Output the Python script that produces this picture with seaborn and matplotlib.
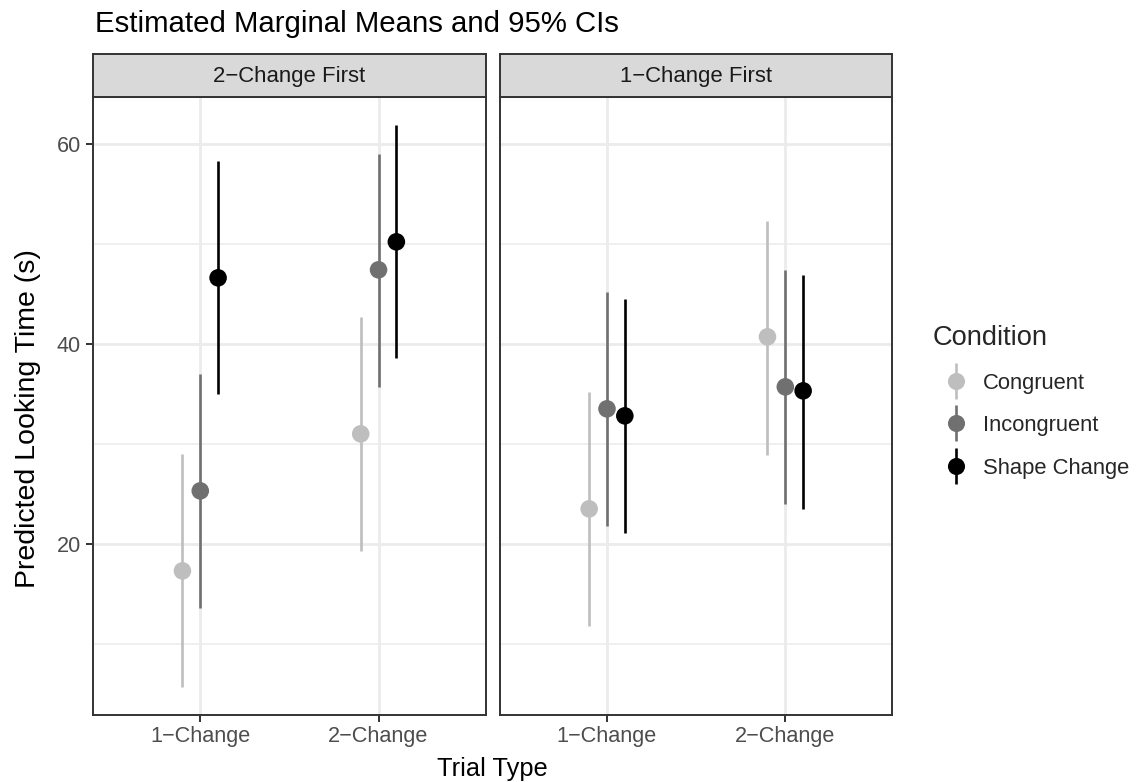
import numpy as np
import pandas as pd
import seaborn as sns
import matplotlib
matplotlib.use("Agg")
import matplotlib.pyplot as plt
from matplotlib.lines import Line2D
from matplotlib.legend_handler import HandlerTuple
from matplotlib.ticker import FixedLocator

# ---------------- data ----------------
orders = ["2\u2212Change First", "1\u2212Change First"]
trial_types = ["1\u2212Change", "2\u2212Change"]
conditions = ["Congruent", "Incongruent", "Shape Change"]

# order: (1-Change: C, I, S), (2-Change: C, I, S)
emmean_2first = [17.3, 25.3, 46.6, 31.0, 47.4, 50.2]
lower_2first = [5.7, 13.6, 35.0, 19.3, 35.7, 38.6]
upper_2first = [29.0, 37.0, 58.3, 42.7, 59.0, 61.9]

emmean_1first = [23.5, 33.5, 32.8, 40.7, 35.7, 35.3]
lower_1first = [11.8, 21.8, 21.1, 28.9, 24.0, 23.5]
upper_1first = [35.2, 45.2, 44.5, 52.3, 47.4, 46.9]

colors = ["#BEBEBE", "#707070", "#000000"]

rows = []
for order, em, lo, up in [(orders[0], emmean_2first, lower_2first, upper_2first),
                          (orders[1], emmean_1first, lower_1first, upper_1first)]:
    k = 0
    for t in trial_types:
        for c in conditions:
            rows.append(dict(order=order, trial=t, cond=c, emmean=em[k], lower=lo[k], upper=up[k]))
            k += 1
df = pd.DataFrame(rows)

dodge = {c: o for c, o in zip(conditions, [-0.1, 0.0, 0.1])}
df["x"] = df["trial"].map({t: i for i, t in enumerate(trial_types)}) + df["cond"].map(dodge)

# ---------------- theme ----------------
sns.set_theme(style="white")
plt.rcParams["font.family"] = ["Liberation Sans", "DejaVu Sans"]

W, H = 1146, 782
fig = plt.figure(figsize=(W / 100, H / 100), dpi=100)

def fx(px):
    return px / W

def fy(py):
    return 1 - py / H

panel_top, panel_bot = 96.7, 715.0
strip_top = 54.0
panels_x = [(93.3, 485.5), (500.0, 892.3)]

lo_all, hi_all = df["lower"].min(), df["upper"].max()
pad = 0.05 * (hi_all - lo_all)
ylim = (lo_all - pad, hi_all + pad)
xlim = (-0.6, len(trial_types) - 1 + 0.6)

grid_c = "#EBEBEB"
border_c = "#333333"
TICK_FS = 15.6

axes = []
for i, (order, (x0, x1)) in enumerate(zip(orders, panels_x)):
    ax = fig.add_axes([fx(x0), fy(panel_bot), fx(x1 - x0), (panel_bot - panel_top) / H])
    axes.append(ax)
    sub = df[df["order"] == order]
    ax.set_xlim(*xlim)
    ax.set_ylim(*ylim)
    # grid
    ax.yaxis.set_major_locator(FixedLocator([20, 40, 60]))
    ax.yaxis.set_minor_locator(FixedLocator([10, 30, 50]))
    ax.xaxis.set_major_locator(FixedLocator(range(len(trial_types))))
    ax.grid(True, which="major", color=grid_c, linewidth=2.0, zorder=0)
    ax.grid(True, which="minor", axis="y", color=grid_c, linewidth=1.1, zorder=0)
    ax.set_axisbelow(True)
    # intervals
    for c, col in zip(conditions, colors):
        s = sub[sub["cond"] == c]
        ax.vlines(s["x"], s["lower"], s["upper"], color=col, linewidth=1.9, zorder=2)
    sns.scatterplot(data=sub, x="x", y="emmean", hue="cond", hue_order=conditions,
                    palette=colors, s=160, linewidth=0, ax=ax, legend=False, zorder=3)
    ax.set_xlabel("")
    ax.set_ylabel("")
    ax.set_xticks(range(len(trial_types)))
    ax.set_xticklabels(trial_types)
    for sp in ax.spines.values():
        sp.set_color(border_c)
        sp.set_linewidth(1.4)
    ax.tick_params(axis="x", which="major", length=5.3, width=1.4, color=border_c,
                   labelsize=TICK_FS, labelcolor="#4D4D4D", pad=2.5, bottom=True)
    if i == 0:
        ax.tick_params(axis="y", which="major", length=5.3, width=1.4, color=border_c,
                       labelsize=TICK_FS, labelcolor="#4D4D4D", pad=3.5, left=True)
        ax.tick_params(axis="y", which="minor", length=0)
    else:
        ax.tick_params(axis="y", which="both", left=False, labelleft=False, length=0)
    # strip
    sax = fig.add_axes([fx(x0), fy(panel_top), fx(x1 - x0), (panel_top - strip_top) / H])
    sax.set_facecolor("#D9D9D9")
    sax.set_xticks([])
    sax.set_yticks([])
    for sp in sax.spines.values():
        sp.set_color(border_c)
        sp.set_linewidth(1.4)
    sax.text(0.5, 0.47, order, ha="center", va="center", fontsize=15.9, color="#1A1A1A",
             transform=sax.transAxes)

# titles
fig.text(fx(95), fy(32), "Estimated Marginal Means and 95% CIs", fontsize=21.2,
         color="black", ha="left", va="baseline")
fig.text(fx((panels_x[0][0] + panels_x[1][1]) / 2), fy(776), "Trial Type", fontsize=18.3,
         ha="center", va="baseline", color="black")
fig.text(fx(35), fy(419), "Predicted Looking Time (s)", fontsize=20.5,
         rotation=90, rotation_mode="anchor", ha="center", va="baseline", color="black")

# legend
handles = []
for col in colors:
    vline = Line2D([], [], color=col, marker="|", linestyle="none", markersize=26,
                   markeredgewidth=1.9)
    dot = Line2D([], [], color=col, marker="o", linestyle="none", markersize=12.3,
                 markeredgewidth=0)
    handles.append((vline, dot))
leg = fig.legend(handles, conditions, handler_map={tuple: HandlerTuple(ndivide=1)},
                 title="Condition", loc="upper left", bbox_to_anchor=(fx(933), fy(325)),
                 frameon=False, fontsize=15.8, title_fontsize=19.6, handlelength=2.1,
                 handletextpad=0.18, labelspacing=0.98, borderaxespad=0, borderpad=0)
leg._legend_box.align = "left"

fig.savefig("out.png", dpi=100)
